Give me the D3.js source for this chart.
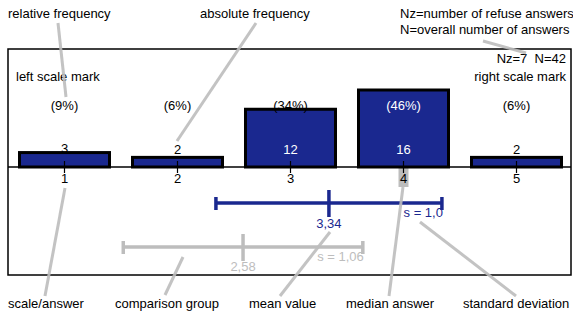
<!DOCTYPE html>
<html>
<head>
<meta charset="utf-8">
<script src="https://cdn.jsdelivr.net/npm/d3@7"></script>
<style>
  body { margin: 0; background: #fff; }
  svg { display: block; font-family: "Liberation Sans", Arial, sans-serif; }
</style>
</head>
<body>
<svg id="svg" width="573" height="312"></svg>
<script>
// answer categories and counts
const answers = [1, 2, 3, 4, 5];
const counts = [3, 2, 12, 16, 2];
const percents = ["(9%)", "(6%)", "(34%)", "(46%)", "(6%)"];
const median = 4;
const mainStats = { mean: 3.34, sd: 1.0, meanLabel: "3,34", sdLabel: "s = 1,0" };
const compStats = { mean: 2.58, sd: 1.06, meanLabel: "2,58", sdLabel: "s = 1,06" };

const blue = "#1a288f";
const grey = "#bdbdbd";
const fs = 13;

const svg = d3.select("#svg");

const x = d3.scaleLinear().domain([1, 5]).range([64.5, 516.5]);
const y = d3.scaleLinear().domain([0, 16]).range([167, 90]);
const barW = 90;

// frame
svg.append("rect")
  .attr("x", 8).attr("y", 49).attr("width", 563).attr("height", 226)
  .attr("fill", "none").attr("stroke", "#000").attr("stroke-width", 1.5);

// baseline
svg.append("line")
  .attr("x1", 8).attr("x2", 571).attr("y1", y(0)).attr("y2", y(0))
  .attr("stroke", "#000").attr("stroke-width", 1.5);

// median marker behind its label
svg.append("rect")
  .attr("x", x(median) - 5).attr("y", y(0) + 1).attr("width", 10).attr("height", 19)
  .attr("fill", grey);

// bars
svg.selectAll("rect.bar")
  .data(counts)
  .enter()
  .append("rect")
  .attr("class", "bar")
  .attr("x", (d, i) => x(answers[i]) - barW / 2)
  .attr("y", (d) => y(d))
  .attr("width", barW)
  .attr("height", (d) => y(0) - y(d))
  .attr("fill", blue)
  .attr("stroke", "#000")
  .attr("stroke-width", 3);

// ticks across baseline
svg.selectAll("line.tick")
  .data(answers)
  .enter()
  .append("line")
  .attr("x1", (d) => x(d)).attr("x2", (d) => x(d))
  .attr("y1", y(0) - 6).attr("y2", y(0) + 6)
  .attr("stroke", "#000").attr("stroke-width", 1.2);

const txt = (sel) => sel.attr("font-size", fs).attr("text-anchor", "middle");

// tick labels
svg.selectAll("text.ans")
  .data(answers)
  .enter()
  .append("text")
  .call(txt)
  .attr("x", (d) => x(d)).attr("y", 183)
  .text((d) => d);

// absolute counts
svg.selectAll("text.abs")
  .data(counts)
  .enter()
  .append("text")
  .call(txt)
  .attr("x", (d, i) => x(answers[i])).attr("y", (d) => (d === 3 ? 153 : 154))
  .attr("fill", (d) => (y(d) < 145 ? "#fff" : "#000"))
  .text((d) => d);

// relative frequencies
svg.selectAll("text.rel")
  .data(percents)
  .enter()
  .append("text")
  .call(txt)
  .attr("x", (d, i) => x(answers[i])).attr("y", 110)
  .attr("fill", (d, i) => (y(counts[i]) < 97 ? "#fff" : "#000"))
  .text((d) => d);

// mean / sd bars
function statBar(s, yc, color, meanLabelY, sdLabelY) {
  const g = svg.append("g").attr("stroke", color).attr("stroke-width", 3.5);
  const x0 = x(s.mean - s.sd), x1 = x(s.mean + s.sd);
  g.append("line").attr("x1", x0).attr("x2", x1).attr("y1", yc).attr("y2", yc);
  g.append("line").attr("x1", x0).attr("x2", x0).attr("y1", yc - 6).attr("y2", yc + 7);
  g.append("line").attr("x1", x1).attr("x2", x1).attr("y1", yc - 6).attr("y2", yc + 7);
  g.append("line").attr("x1", x(s.mean)).attr("x2", x(s.mean)).attr("y1", yc - 13).attr("y2", yc + 14);
  svg.append("text").call(txt).attr("fill", color)
    .attr("x", x(s.mean)).attr("y", meanLabelY).text(s.meanLabel);
  svg.append("text").attr("font-size", fs).attr("text-anchor", "end").attr("fill", color)
    .attr("x", x1 + 1).attr("y", sdLabelY).text(s.sdLabel);
}
statBar(compStats, 247, grey, 271, 261);
statBar(mainStats, 203, blue, 228, 217);

// labels inside frame
svg.append("text").attr("font-size", fs).attr("x", 16).attr("y", 81).text("left scale mark");
svg.append("text").attr("font-size", fs).attr("text-anchor", "end").attr("x", 566).attr("y", 63)
  .attr("xml:space", "preserve").text("Nz=7  N=42");
svg.append("text").attr("font-size", fs).attr("text-anchor", "end").attr("x", 566).attr("y", 81)
  .text("right scale mark");

// legend annotations and their leader lines
const notes = [
  { t: "relative frequency", x: 8, y: 18, l: [58, 23, 66, 97] },
  { t: "absolute frequency", x: 200, y: 18, l: [256, 23, 177, 141] },
  { t: "Nz=number of refuse answers", x: 400, y: 18, l: null },
  { t: "N=overall number of answers", x: 400, y: 34, l: [483, 41, 526, 53] },
  { t: "scale/answer", x: 8, y: 308, l: [65, 188, 45, 296] },
  { t: "comparison group", x: 115, y: 308, l: [183, 257, 165, 295] },
  { t: "mean value", x: 249, y: 308, l: [330, 232, 280, 296] },
  { t: "median answer", x: 346, y: 308, l: [403, 187, 389, 296] },
  { t: "standard deviation", x: 463, y: 308, l: [420, 222, 516, 296] },
];

svg.selectAll("line.lead")
  .data(notes.filter((d) => d.l))
  .enter()
  .append("line")
  .attr("x1", (d) => d.l[0]).attr("y1", (d) => d.l[1])
  .attr("x2", (d) => d.l[2]).attr("y2", (d) => d.l[3])
  .attr("stroke", grey).attr("stroke-width", 3).attr("opacity", 0.9);

svg.selectAll("text.note")
  .data(notes)
  .enter()
  .append("text")
  .attr("font-size", fs)
  .attr("x", (d) => d.x).attr("y", (d) => d.y)
  .text((d) => d.t);
</script>
</body>
</html>
